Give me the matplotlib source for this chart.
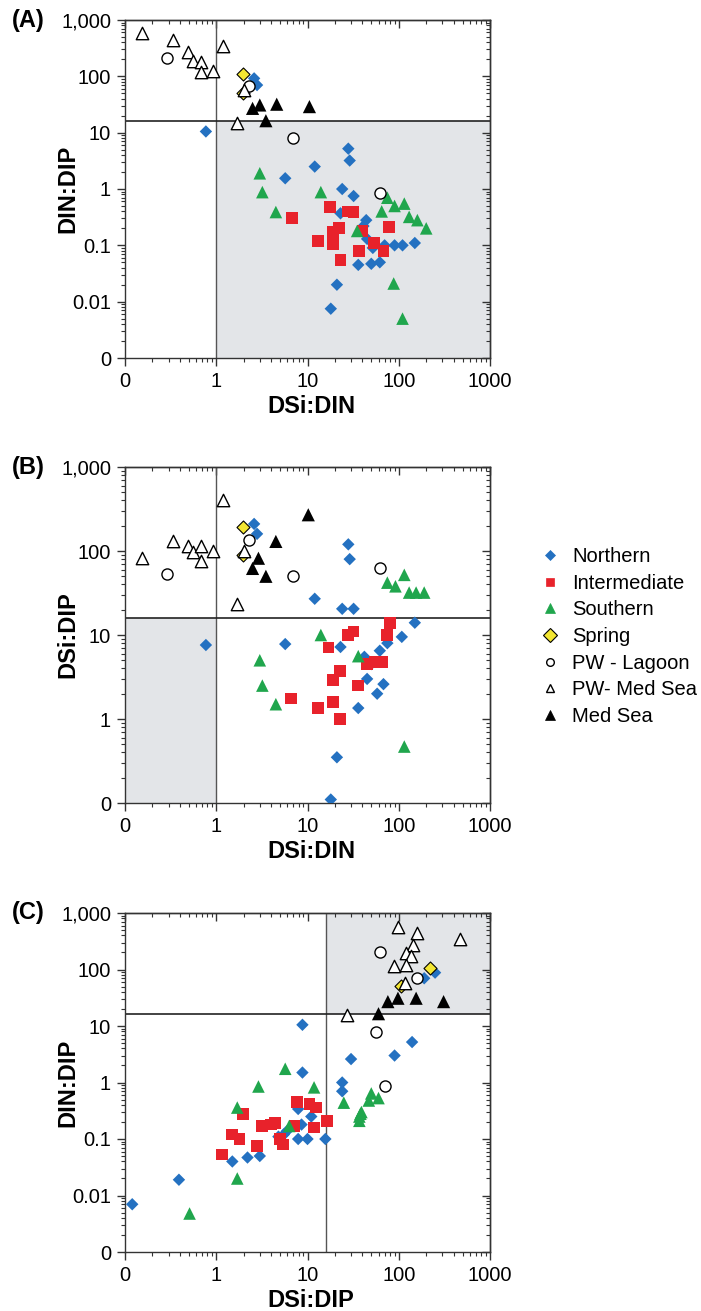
"""Three-panel nutrient ratio scatter (A, B, C) with Redfield thresholds."""
import numpy as np
import matplotlib

matplotlib.use("Agg")
import matplotlib.pyplot as plt
from matplotlib.lines import Line2D
from matplotlib.ticker import LogLocator, FixedLocator, FixedFormatter, NullFormatter

plt.rcParams["font.family"] = ["Liberation Sans", "DejaVu Sans"]

# thresholds
SI_N = 1
N_P = 16
SI_P = 16

GROUPS = ["Northern", "Intermediate", "Southern", "Spring",
          "PW - Lagoon", "PW- Med Sea", "Med Sea"]

# ---- panel A: x = DSi:DIN, y = DIN:DIP
A_north_x = [0.77, 2.6, 2.8, 28, 29, 12, 5.7, 24, 32, 23, 36, 21, 18, 41, 45, 52, 70, 90, 110, 150, 50, 62, 44]
A_north_y = [10.5, 92, 70, 5.2, 3.2, 2.5, 1.55, 1.0, 0.75, 0.37, 0.045, 0.02, 0.0075, 0.22, 0.13, 0.09, 0.1, 0.1, 0.1, 0.11, 0.047, 0.05, 0.28]
A_inter_x = [6.8, 17.5, 28, 32, 22, 19, 13, 19, 37, 23, 40, 54, 68, 78]
A_inter_y = [0.31, 0.48, 0.4, 0.39, 0.2, 0.17, 0.12, 0.105, 0.08, 0.055, 0.18, 0.11, 0.08, 0.21]
A_south_x = [3.0, 3.2, 4.5, 14, 35, 88, 110, 65, 75, 90, 115, 130, 160, 200]
A_south_y = [1.9, 0.88, 0.39, 0.88, 0.18, 0.021, 0.005, 0.4, 0.7, 0.5, 0.55, 0.32, 0.28, 0.2]
A_spring_x = [1.95, 1.95]
A_spring_y = [110, 50]
A_lagoon_x = [0.29, 2.3, 7.0, 62]
A_lagoon_y = [210, 67, 8.2, 0.85]
A_pwmed_x = [0.155, 0.34, 0.49, 0.55, 0.68, 0.68, 0.93, 1.2, 1.7, 2.0]
A_pwmed_y = [590, 450, 265, 190, 183, 118, 122, 350, 15, 57]
A_med_x = [2.5, 3.0, 4.6, 10.5, 3.5]
A_med_y = [27, 31, 32, 29, 16.3]

# ---- panel B: x = DSi:DIN, y = DSi:DIP
B_north_x = [0.77, 2.6, 2.8, 28, 29, 12, 24, 32, 5.7, 23, 36, 21, 18, 150, 108, 42, 50, 62, 75, 45, 58, 68]
B_north_y = [7.6, 210, 160, 120, 80, 27, 20.5, 20.5, 7.8, 7.2, 1.35, 0.35, 0.11, 14, 9.5, 5.5, 4.5, 6.5, 8, 3, 2.0, 2.6]
B_inter_x = [6.6, 17, 13, 19, 22.5, 19, 22.5, 28, 32, 36, 45, 55, 66, 75, 80]
B_inter_y = [1.75, 7.1, 1.35, 1.6, 1.0, 2.9, 3.7, 10, 11, 2.5, 4.5, 4.8, 4.8, 10, 14]
B_south_x = [3.0, 3.2, 4.5, 14, 36, 75, 92, 115, 130, 155, 190, 115]
B_south_y = [5.0, 2.5, 1.5, 10, 5.6, 42, 38, 52, 32, 32, 32, 0.47]
B_spring_x = [1.95, 1.95]
B_spring_y = [195, 90]
B_lagoon_x = [0.29, 2.3, 7.0, 62]
B_lagoon_y = [53, 137, 50, 62]
B_pwmed_x = [0.155, 0.34, 0.49, 0.55, 0.68, 0.68, 0.93, 1.2, 1.7, 2.0]
B_pwmed_y = [83, 130, 115, 97, 115, 75, 100, 410, 23.5, 100]
B_med_x = [2.5, 2.9, 4.5, 10.2, 3.5]
B_med_y = [62, 82, 130, 270, 50]

# ---- panel C: x = DSi:DIP, y = DIN:DIP
C_north_x = [0.12, 0.39, 1.5, 2.2, 3.0, 4.8, 7.9, 10, 15.7, 7.9, 11, 8.6, 8.8, 8.8, 24, 24, 30, 90, 140, 190, 250, 5.5, 6.0]
C_north_y = [0.007, 0.019, 0.04, 0.047, 0.05, 0.11, 0.1, 0.1, 0.1, 0.34, 0.25, 0.18, 1.5, 10.5, 1.0, 0.7, 2.6, 3.0, 5.2, 70, 88, 0.12, 0.14]
C_inter_x = [1.15, 1.5, 1.8, 1.95, 2.8, 3.2, 4.0, 4.4, 5.0, 5.4, 7.2, 7.7, 10.5, 12.5, 11.8, 16.5]
C_inter_y = [0.053, 0.12, 0.1, 0.28, 0.075, 0.17, 0.18, 0.19, 0.1, 0.08, 0.17, 0.45, 0.41, 0.36, 0.16, 0.21]
C_south_x = [0.51, 1.7, 1.7, 2.9, 5.7, 11.8, 6.3, 25, 37, 39, 47, 50, 60, 37, 38]
C_south_y = [0.0048, 0.02, 0.36, 0.85, 1.75, 0.82, 0.17, 0.44, 0.21, 0.3, 0.48, 0.64, 0.53, 0.25, 0.28]
C_spring_x = [220, 107]
C_spring_y = [108, 52]
C_lagoon_x = [63, 160, 57, 70]
C_lagoon_y = [200, 70, 7.8, 0.85]
C_pwmed_x = [99, 160, 465, 145, 120, 135, 89, 120, 118, 27]
C_pwmed_y = [565, 440, 350, 270, 195, 175, 115, 120, 57, 15.6]
C_med_x = [76, 98, 155, 310, 60]
C_med_y = [27, 31, 31, 27, 16.5]

X_TICKS = [0.1, 1, 10, 100, 1000]
X_LABELS = ["0", "1", "10", "100", "1000"]
Y_TICKS_WIDE = [0.001, 0.01, 0.1, 1, 10, 100, 1000]
Y_LABELS_WIDE = ["0", "0.01", "0.1", "1", "10", "100", "1,000"]
Y_TICKS_B = [0.1, 1, 10, 100, 1000]
Y_LABELS_B = ["0", "1", "10", "100", "1,000"]

STYLE = {
    "Northern": dict(marker="D", s=40, c="#2471c1", edgecolors="none"),
    "Intermediate": dict(marker="s", s=72, c="#e8222b", edgecolors="none"),
    "Southern": dict(marker="^", s=82, c="#20a64d", edgecolors="none"),
    "Spring": dict(marker="D", s=44, c="#f3e632", edgecolors="black", linewidths=0.8),
    "PW - Lagoon": dict(marker="o", s=64, c="white", edgecolors="black", linewidths=1.0),
    "PW- Med Sea": dict(marker="^", s=80, c="white", edgecolors="black", linewidths=1.0),
    "Med Sea": dict(marker="^", s=90, c="black", edgecolors="none"),
}
SHADE = "#e3e5e8"
LINE_C = "#333333"

W, H = 701, 1311
fig = plt.figure(figsize=(W / 100, H / 100), dpi=100)
left, width = 125 / W, 365 / W


def make_axes(top_px, bot_px):
    return fig.add_axes([left, 1 - bot_px / H, width, (bot_px - top_px) / H])


def style_axes(ax, ylim, yticks, ylabels, xlabel, ylabel, letter):
    ax.set_xscale("log"); ax.set_yscale("log")
    ax.set_xlim(X_TICKS[0], X_TICKS[-1]); ax.set_ylim(*ylim)
    ax.xaxis.set_major_locator(FixedLocator(X_TICKS))
    ax.xaxis.set_major_formatter(FixedFormatter(X_LABELS))
    ax.yaxis.set_major_locator(FixedLocator(yticks))
    ax.yaxis.set_major_formatter(FixedFormatter(ylabels))
    for a in (ax.xaxis, ax.yaxis):
        a.set_minor_locator(LogLocator(base=10, subs=np.arange(2, 10), numticks=20))
        a.set_minor_formatter(NullFormatter())
    ax.tick_params(which="major", direction="out", length=6, width=1, labelsize=14.5,
                   color=LINE_C, pad=4)
    ax.tick_params(which="minor", direction="out", length=3, width=0.8, color=LINE_C)
    for sp in ax.spines.values():
        sp.set_color(LINE_C); sp.set_linewidth(1.0)
    # mirrored inward ticks on top / right
    top = ax.secondary_xaxis("top")
    right = ax.secondary_yaxis("right")
    for sec, axis in ((top, top.xaxis), (right, right.yaxis)):
        axis.set_major_locator(FixedLocator(X_TICKS if sec is top else yticks))
        axis.set_minor_locator(LogLocator(base=10, subs=np.arange(2, 10), numticks=20))
        axis.set_major_formatter(NullFormatter()); axis.set_minor_formatter(NullFormatter())
        sec.tick_params(which="major", direction="in", length=6, width=1, color=LINE_C)
        sec.tick_params(which="minor", direction="in", length=3, width=0.8, color=LINE_C)
        for sp in sec.spines.values():
            sp.set_color(LINE_C); sp.set_linewidth(1.0)
    ax.set_xlabel(xlabel, fontsize=17, fontweight="bold")
    ax.set_ylabel(ylabel, fontsize=17, fontweight="bold")
    ax.xaxis.set_label_coords(0.51, -0.11)
    ax.yaxis.set_label_coords(-0.125, 0.5)
    bb = ax.get_position()
    fig.text(12 / W, bb.y1, letter, fontsize=17, fontweight="bold", va="center", ha="left")


def shade(ax, x0, x1, y0, y1):
    ax.fill_between([x0, x1], [y0, y0], [y1, y1], color=SHADE, lw=0, zorder=0)


def draw(ax, series):
    for name, (xs, ys) in zip(GROUPS, series):
        ax.scatter(xs, ys, zorder=3, label=name, **STYLE[name])


# ---- (A)
axA = make_axes(20, 358)
style_axes(axA, (Y_TICKS_WIDE[0], Y_TICKS_WIDE[-1]), Y_TICKS_WIDE, Y_LABELS_WIDE,
           "DSi:DIN", "DIN:DIP", "(A)")
shade(axA, SI_N, X_TICKS[-1], Y_TICKS_WIDE[0], N_P)
axA.axvline(SI_N, color="#555555", lw=1.0, zorder=1)
axA.axhline(N_P, color="#222222", lw=1.2, zorder=1)
draw(axA, [(A_north_x, A_north_y), (A_inter_x, A_inter_y), (A_south_x, A_south_y),
           (A_spring_x, A_spring_y), (A_lagoon_x, A_lagoon_y), (A_pwmed_x, A_pwmed_y),
           (A_med_x, A_med_y)])

# ---- (B)
axB = make_axes(467, 803)
style_axes(axB, (Y_TICKS_B[0], Y_TICKS_B[-1]), Y_TICKS_B, Y_LABELS_B,
           "DSi:DIN", "DSi:DIP", "(B)")
shade(axB, X_TICKS[0], SI_N, Y_TICKS_B[0], SI_P)
axB.axvline(SI_N, color="#555555", lw=1.0, zorder=1)
axB.axhline(SI_P, color="#222222", lw=1.2, zorder=1)
draw(axB, [(B_north_x, B_north_y), (B_inter_x, B_inter_y), (B_south_x, B_south_y),
           (B_spring_x, B_spring_y), (B_lagoon_x, B_lagoon_y), (B_pwmed_x, B_pwmed_y),
           (B_med_x, B_med_y)])

# ---- (C)
axC = make_axes(913, 1252)
style_axes(axC, (Y_TICKS_WIDE[0], Y_TICKS_WIDE[-1]), Y_TICKS_WIDE, Y_LABELS_WIDE,
           "DSi:DIP", "DIN:DIP", "(C)")
shade(axC, SI_P, X_TICKS[-1], N_P, Y_TICKS_WIDE[-1])
axC.axvline(SI_P, color="#555555", lw=1.0, zorder=1)
axC.axhline(N_P, color="#222222", lw=1.2, zorder=1)
draw(axC, [(C_north_x, C_north_y), (C_inter_x, C_inter_y), (C_south_x, C_south_y),
           (C_spring_x, C_spring_y), (C_lagoon_x, C_lagoon_y), (C_pwmed_x, C_pwmed_y),
           (C_med_x, C_med_y)])

# ---- legend (small markers, right of panel B)
LEG_SIZE = {"Northern": 5, "Intermediate": 6, "Southern": 7, "Spring": 7,
            "PW - Lagoon": 5.5, "PW- Med Sea": 6, "Med Sea": 7}
leg_handles = []
for name in GROUPS:
    st = STYLE[name]
    ec = st["edgecolors"] if st["edgecolors"] != "none" else st["c"]
    leg_handles.append(Line2D([], [], ls="none", marker=st["marker"], markersize=LEG_SIZE[name],
                              markerfacecolor=st["c"], markeredgecolor=ec,
                              markeredgewidth=st.get("linewidths", 0.5)))
fig.legend(leg_handles, GROUPS, loc="upper left", bbox_to_anchor=(540 / W, 1 - 547 / H),
           frameon=False, fontsize=14.5, handlelength=1.0, handletextpad=0.6,
           labelspacing=0.38, borderpad=0, borderaxespad=0)

fig.savefig("out.png", dpi=100, facecolor="white")
